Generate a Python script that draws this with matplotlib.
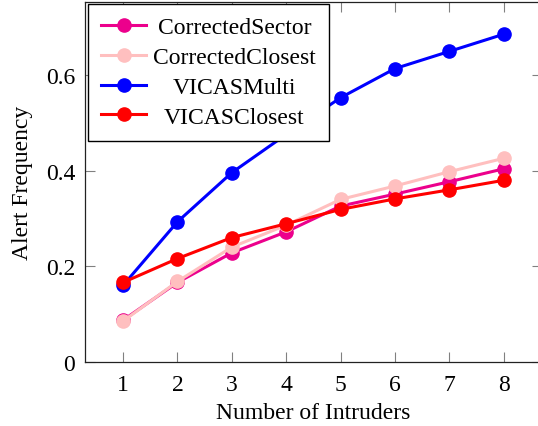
import matplotlib
matplotlib.use('Agg')
import matplotlib.pyplot as plt

plt.rcParams['font.family'] = ['Liberation Serif', 'DejaVu Serif']

# данные
intruders = [1, 2, 3, 4, 5, 6, 7, 8]
corrected_sector = [0.087, 0.166, 0.228, 0.272, 0.326, 0.351, 0.377, 0.404]
corrected_closest = [0.085, 0.168, 0.240, 0.286, 0.340, 0.368, 0.398, 0.426]
vicas_multi = [0.160, 0.293, 0.396, 0.476, 0.553, 0.614, 0.650, 0.686]
vicas_closest = [0.166, 0.216, 0.260, 0.289, 0.319, 0.341, 0.360, 0.380]

series = [
    ('CorrectedSector', corrected_sector, '#EC008C'),
    ('CorrectedClosest', corrected_closest, '#FFBFBF'),
    ('VICASMulti', vicas_multi, '#0000FF'),
    ('VICASClosest', vicas_closest, '#FF0000'),
]

fig = plt.figure(figsize=(5.38, 4.27), dpi=100)
ax = fig.add_axes([0.158, 0.1506, 0.849, 0.8424])

for name, vals, col in series:
    ax.plot(intruders, vals, color=col, lw=2.2, marker='o', ms=9.5, label=name)

ax.set_xlim(0.3, 8.7)
ax.set_ylim(0, 0.7535)
ax.set_xticks(intruders)
ax.set_yticks([0, 0.2, 0.4, 0.6])
ax.set_yticklabels(['0', '0.2', '0.4', '0.6'])
ax.tick_params(direction='in', length=7, width=0.8, color='#808080',
               top=True, right=True, labelsize=17)
ax.tick_params(axis='x', pad=9)
ax.tick_params(axis='y', pad=7)
for s in ax.spines.values():
    s.set_linewidth(0.9)
    s.set_color('#222222')

ax.set_xlabel('Number of Intruders', fontsize=17, labelpad=5)
ax.set_ylabel('Alert Frequency', fontsize=17, labelpad=9)

leg = ax.legend(loc='upper left', bbox_to_anchor=(0.007, 0.995), borderaxespad=0,
                fontsize=17, fancybox=False, framealpha=1, edgecolor='black',
                handlelength=1.9, labelspacing=0.35, borderpad=0.55, handletextpad=0.3)
leg.get_frame().set_linewidth(1.0)

# центрируем подписи в легенде как в pgfplots
renderer = fig.canvas.get_renderer()
widths = [t.get_window_extent(renderer).width for t in leg.get_texts()]
wmax = max(widths)
for t, w in zip(leg.get_texts(), widths):
    t.set_position(((wmax - w) / 2, 0))

fig.savefig('out.png', dpi=100)
